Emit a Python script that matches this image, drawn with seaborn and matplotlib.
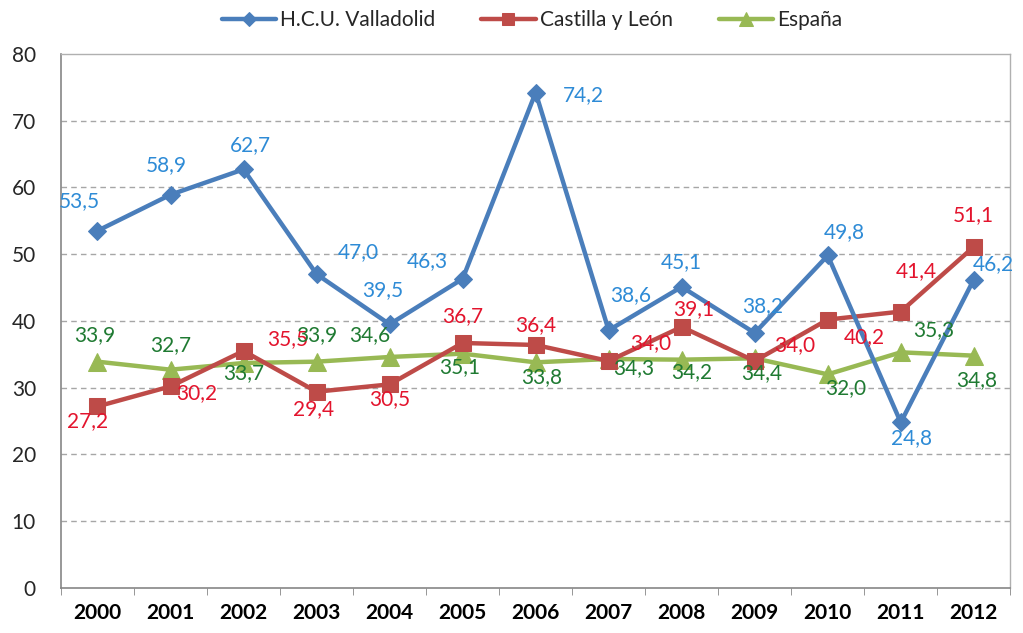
import numpy as np
import pandas as pd
import matplotlib
matplotlib.use("Agg")
import matplotlib.pyplot as plt
import seaborn as sns

# datos
years = ["2000", "2001", "2002", "2003", "2004", "2005", "2006",
         "2007", "2008", "2009", "2010", "2011", "2012"]
hcu = [53.5, 58.9, 62.7, 47.0, 39.5, 46.3, 74.2, 38.6, 45.1, 38.2, 49.8, 24.8, 46.2]
cyl = [27.2, 30.2, 35.5, 29.4, 30.5, 36.7, 36.4, 34.0, 39.1, 34.0, 40.2, 41.4, 51.1]
esp = [33.9, 32.7, 33.7, 33.9, 34.6, 35.1, 33.8, 34.3, 34.2, 34.4, 32.0, 35.3, 34.8]
names = ["H.C.U. Valladolid", "Castilla y León", "España"]

# posicion de las etiquetas (pixeles respecto al punto)
off_hcu = [(-18, 30), (-4, 30), (7, 24), (42, 22), (-7, 34), (-35, 18), (48, -3),
           (22, 35), (0, 25), (8, 27), (17, 23), (11, -16), (20, 15)]
off_cyl = [(-10, -15), (26, -7), (44, 12), (-3, -17), (0, -15), (0, 27), (0, 20),
           (42, 18), (12, 18), (40, 16), (37, -17), (16, 40), (0, 32)]
off_esp = [(-3, 27), (0, 25), (0, -10), (0, 27), (-20, 22), (-3, -13), (6, -15),
           (25, -9), (10, -12), (7, -15), (18, -14), (33, 22), (3, -24)]

line_cols = ["#4a7ebb", "#be4b48", "#98b954"]
text_cols = ["#2e8bd6", "#e3142d", "#1f7a32"]
markers = ["D", "s", "^"]
msizes = [9, 12, 13]

pos = np.arange(len(years))
df = pd.DataFrame({"pos": pos, names[0]: hcu, names[1]: cyl, names[2]: esp})
df = df.melt(id_vars="pos", var_name="serie", value_name="valor")

sns.set_style("white")
plt.rcParams["font.family"] = ["Lato", "DejaVu Sans"]

fig = plt.figure(figsize=(10.23, 6.33), dpi=100)
ax = fig.add_axes([0.0596, 0.071, 0.928, 0.844])

# grid
for v in range(10, 80, 10):
    ax.axhline(v, color="#a6a6a6", lw=1, ls=(0, (4, 3)), zorder=0)

all_vals = [hcu, cyl, esp]
all_offs = [off_hcu, off_cyl, off_esp]
for i, name in enumerate(names):
    sns.lineplot(data=df[df["serie"] == name], x="pos", y="valor", ax=ax,
                 color=line_cols[i], lw=3.2, marker=markers[i], ms=msizes[i],
                 mec=line_cols[i], mfc=line_cols[i], label=name, zorder=3 - i)
    for j, v in enumerate(all_vals[i]):
        dx, dy = all_offs[i][j]
        ax.annotate(f"{v:.1f}".replace(".", ","), (pos[j], v), xytext=(dx, dy),
                    textcoords="offset pixels", ha="center", va="center",
                    color=text_cols[i], fontsize=15, zorder=5)

ax.set_xlim(-0.5, 12.5)
ax.set_ylim(0, 80)
ax.set_xlabel("")
ax.set_ylabel("")
ax.set_xticks(pos)
ax.set_xticklabels(years, fontweight="bold", fontsize=15)
ax.set_xticks(np.arange(-0.5, 13, 1), minor=True)
ax.set_yticks(range(0, 90, 10))
ax.tick_params(axis="x", which="major", length=0, pad=11, colors="black")
ax.tick_params(axis="x", which="minor", length=5, color="#868686", direction="out")
ax.tick_params(axis="y", length=6, color="#868686", direction="out", pad=12,
               labelsize=15)
ax.xaxis.set_tick_params(which="minor", bottom=True)
for s in ["left", "bottom"]:
    ax.spines[s].set_color("#868686")
    ax.spines[s].set_linewidth(1.2)
for s in ["top", "right"]:
    ax.spines[s].set_color("#b0b0b0")
    ax.spines[s].set_linewidth(1)

handles, labels = ax.get_legend_handles_labels()
ax.get_legend().remove()
fig.legend(handles, labels, loc="center", bbox_to_anchor=(0.52, 0.968), ncol=3,
           frameon=False, fontsize=15, handlelength=2.6, handletextpad=0.2,
           columnspacing=2.2, markerscale=0.75)

fig.savefig("out.png", dpi=100, facecolor="white")
